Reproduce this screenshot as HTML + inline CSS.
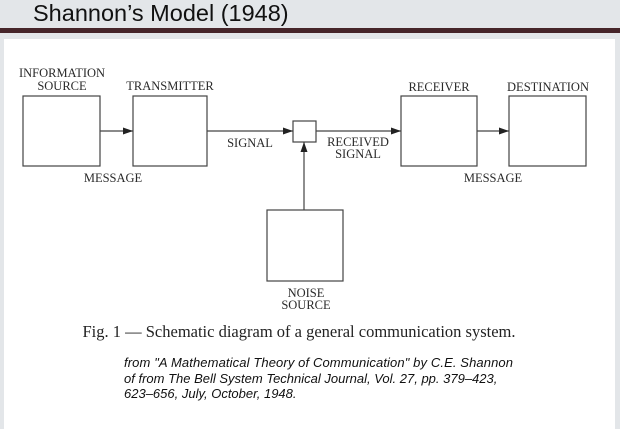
<!DOCTYPE html>
<html><head><style>
body{margin:0;width:620px;height:424px;background:#e3e6e9;position:relative;overflow:hidden}
.title{position:absolute;left:33px;top:0px;font:23.5px "Liberation Sans",sans-serif;color:#111}
.bar{position:absolute;left:0;top:28px;width:620px;height:5px;background:#46252a}
.panel{position:absolute;left:4px;top:39px;width:611px;height:390px;background:#fff}
svg{position:absolute;left:0;top:0}
</style></head><body>
<div class="title">Shannon’s Model (1948)</div>
<div class="bar"></div>
<div class="panel"></div>
<svg width="620" height="424" font-family="Liberation Serif,serif" font-size="12.5" fill="#2a2a2a">
<g fill="none" stroke="#444" stroke-width="1.2">
<rect x="23" y="96" width="77" height="70"/>
<rect x="133" y="96" width="74" height="70"/>
<rect x="293" y="121" width="23" height="21"/>
<rect x="401" y="96" width="76" height="70"/>
<rect x="509" y="96" width="77" height="70"/>
<rect x="267" y="210" width="76" height="71"/>
<path d="M100 131H133M207 131H293M316 131H401M477 131H509M304 210V142"/>
</g>
<g fill="#222">
<path d="M133 131l-10-3.5v7z"/><path d="M293 131l-10-3.5v7z"/><path d="M401 131l-10-3.5v7z"/><path d="M509 131l-10-3.5v7z"/><path d="M304 142l-3.5 10h7z"/>
</g>
<g text-anchor="middle">
<text x="62" y="77">INFORMATION</text><text x="62" y="90">SOURCE</text>
<text x="170" y="90">TRANSMITTER</text>
<text x="439" y="91">RECEIVER</text>
<text x="548" y="91">DESTINATION</text>
<text x="250" y="147">SIGNAL</text>
<text x="358" y="146">RECEIVED</text><text x="358" y="158">SIGNAL</text>
<text x="113" y="182">MESSAGE</text>
<text x="493" y="182">MESSAGE</text>
<text x="306" y="297">NOISE</text><text x="306" y="309">SOURCE</text>
<text x="299" y="337" font-size="16.5" fill="#222">Fig. 1 — Schematic diagram of a general communication system.</text>
</g>
<g font-family="Liberation Sans,sans-serif" font-style="italic" font-size="13" fill="#111">
<text x="124" y="367" textLength="389">from "A Mathematical Theory of Communication" by C.E. Shannon</text>
<text x="124" y="383">of from The Bell System Technical Journal, Vol. 27, pp. 379–423,</text>
<text x="124" y="398">623–656, July, October, 1948.</text>
</g>
</svg>
</body></html>
